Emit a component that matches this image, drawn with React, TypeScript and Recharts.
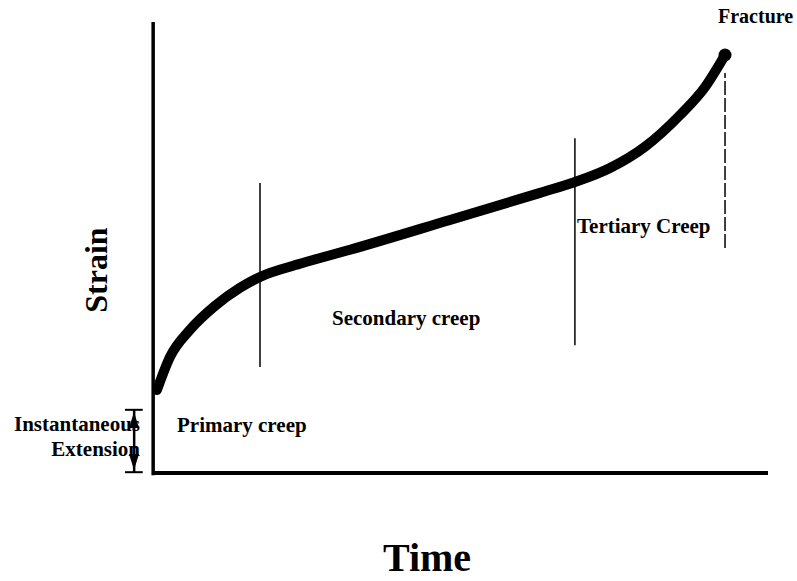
import React from 'react';
import {
  LineChart,
  Line,
  XAxis,
  YAxis,
  ReferenceLine,
  ReferenceDot,
} from 'recharts';

// creep curve, time vs strain (arbitrary units 0..100)
const timeValues = [0.33, 2.45, 5.71, 9.79, 13.87, 17.13, 23.65, 31.81, 48.12, 62.81, 68.52, 74.23, 79.93, 85.64, 89.72, 92.99];
const strainValues = [18.6, 25.9, 31.9, 37.2, 41.2, 43.6, 46.5, 49.6, 56.2, 62.2, 64.6, 67.7, 72.4, 79.4, 85.6, 92.7];

// axes extents
const axisMax = [100, 100];

// stage boundaries: [x, yBottom, yTop]
const primaryEnd = [17.13, 23.7, 64.4];
const secondaryEnd = [68.5, 28.5, 74.3];
const fractureGuide = [92.99, 50.0, 88.7];

// instantaneous extension bracket
const instantX = -3.4;
const instantRange = [0.4, 14.2];
const instantTick = [-4.9, -2.0];

const curveData = timeValues.map((t, i) => ({ time: t, strain: strainValues[i] }));

const FONT = '"Liberation Serif", "Times New Roman", serif';

export default function App() {
  return (
    <div style={{ position: 'absolute', left: 0, top: 0, width: 797, height: 581, background: '#fff' }}>
      <LineChart
        width={797}
        height={581}
        data={curveData}
        margin={{ top: 22, right: 29, bottom: 107, left: 155 }}
      >
        <XAxis type="number" dataKey="time" domain={[0, 100]} hide />
        <YAxis type="number" domain={[0, 100]} hide />
        {/* hand-drawn style axes */}
        <ReferenceLine
          ifOverflow="visible"
          segment={[{ x: -0.3, y: -0.3 }, { x: -0.3, y: axisMax[1] }]}
          stroke="#000"
          strokeWidth={3.5}
        />
        <ReferenceLine
          ifOverflow="visible"
          segment={[{ x: -0.3, y: 0.2 }, { x: axisMax[0], y: 0.2 }]}
          stroke="#000"
          strokeWidth={4}
        />
        <ReferenceLine
          segment={[{ x: primaryEnd[0], y: primaryEnd[1] }, { x: primaryEnd[0], y: primaryEnd[2] }]}
          stroke="#000"
          strokeWidth={1.5}
        />
        <ReferenceLine
          segment={[{ x: secondaryEnd[0], y: secondaryEnd[1] }, { x: secondaryEnd[0], y: secondaryEnd[2] }]}
          stroke="#000"
          strokeWidth={1.5}
        />
        <ReferenceLine
          segment={[{ x: fractureGuide[0], y: fractureGuide[1] }, { x: fractureGuide[0], y: fractureGuide[2] }]}
          stroke="#000"
          strokeWidth={1.5}
          strokeDasharray="14 3"
        />
        <ReferenceLine
          ifOverflow="visible"
          segment={[{ x: instantX, y: instantRange[0] }, { x: instantX, y: instantRange[1] }]}
          stroke="#000"
          strokeWidth={2.5}
        />
        <ReferenceLine
          ifOverflow="visible"
          segment={[{ x: instantTick[0], y: instantRange[0] }, { x: instantTick[1], y: instantRange[0] }]}
          stroke="#000"
          strokeWidth={2}
        />
        <ReferenceLine
          ifOverflow="visible"
          segment={[{ x: instantTick[0], y: instantRange[1] }, { x: instantTick[1], y: instantRange[1] }]}
          stroke="#000"
          strokeWidth={2}
        />
        <Line
          type="monotone"
          dataKey="strain"
          stroke="#000"
          strokeWidth={10}
          strokeLinecap="round"
          dot={false}
          isAnimationActive={false}
        />
        <ReferenceDot
          x={timeValues[timeValues.length - 1]}
          y={strainValues[strainValues.length - 1]}
          r={6.5}
          fill="#000"
          stroke="none"
        />
      </LineChart>

      <svg
        width={797}
        height={581}
        style={{ position: 'absolute', left: 0, top: 0, pointerEvents: 'none' }}
        fontFamily={FONT}
        fontWeight="bold"
      >
        {/* arrow heads on the instantaneous extension bracket */}
        <polygon points="134,412 129,428 139,428" fill="#000" />
        <polygon points="134,470 129,454 139,454" fill="#000" />

        <text x={96} y={270} fontSize={32} textAnchor="middle" dominantBaseline="central" transform="rotate(-90 96 270)">
          Strain
        </text>
        <text x={427} y={571} fontSize={40} textAnchor="middle">Time</text>
        <text x={332} y={325} fontSize={21}>Secondary creep</text>
        <text x={177} y={432} fontSize={21}>Primary creep</text>
        <text x={577} y={233} fontSize={21}>Tertiary Creep</text>
        <text x={140} y={431} fontSize={21} textAnchor="end">Instantaneous</text>
        <text x={140} y={456} fontSize={21} textAnchor="end">Extension</text>
        <text x={718} y={23} fontSize={20}>Fracture</text>
      </svg>
    </div>
  );
}
